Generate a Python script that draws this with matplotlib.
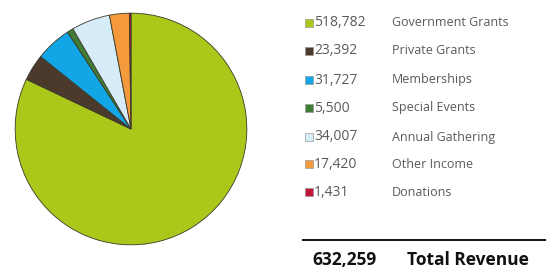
import matplotlib
matplotlib.use("Agg")
import matplotlib.pyplot as plt
from matplotlib.patches import Rectangle

labels = ["Government Grants", "Private Grants", "Memberships", "Special Events",
          "Annual Gathering", "Other Income", "Donations"]
values = [518782, 23392, 31727, 5500, 34007, 17420, 1431]
value_text = ["518,782", "23,392", "31,727", "5,500", "34,007", "17,420", "1,431"]
total_text = "632,259"
total_label = "Total Revenue"

colors = ["#abc71a", "#4b3a2c", "#12a6e6", "#3f7d35", "#d6ecf8", "#f59a3c", "#c3143a"]

W, H = 546, 270
fig = plt.figure(figsize=(W / 100, H / 100), dpi=100)
fig.patch.set_facecolor("white")

# pie axes placed in pixel coords
cx, cy, r = 131, 129, 117
ax = fig.add_axes([(cx - r) / W, 1 - (cy + r) / H, 2 * r / W, 2 * r / H])
ax.pie(values, colors=colors, startangle=90, counterclock=False,
       wedgeprops={"edgecolor": "#3a3a2a", "linewidth": 0.6})
ax.set_xlim(-1.01, 1.01)
ax.set_ylim(-1.01, 1.01)
ax.set_aspect("equal")
ax.axis("off")

# legend and total on an overlay axes in pixel coords
ov = fig.add_axes([0, 0, 1, 1])
ov.set_xlim(0, W)
ov.set_ylim(H, 0)
ov.axis("off")

row_y = [23, 51, 80, 108, 137, 164, 192]
for y, c, v, lab in zip(row_y, colors, value_text, labels):
    ov.add_patch(Rectangle((305, y - 4), 8, 8, facecolor=c, edgecolor="#999999", linewidth=0.5))
    ov.text(314, y, v, fontsize=10, color="#5a5a5a", va="center", ha="left",
            family="Open Sans")
    ov.text(392, y, lab, fontsize=9, color="#5a5a5a", va="center", ha="left",
            family="Open Sans")

ov.plot([303, 546], [240, 240], color="#111111", linewidth=1.4)
ov.text(312, 260, total_text, fontsize=12.5, fontweight="bold", color="#111111",
        va="center", ha="left", family="Open Sans")
ov.text(407, 260, total_label, fontsize=12.5, fontweight="bold", color="#111111",
        va="center", ha="left", family="Open Sans")

fig.savefig("out.png", dpi=100, facecolor="white")
